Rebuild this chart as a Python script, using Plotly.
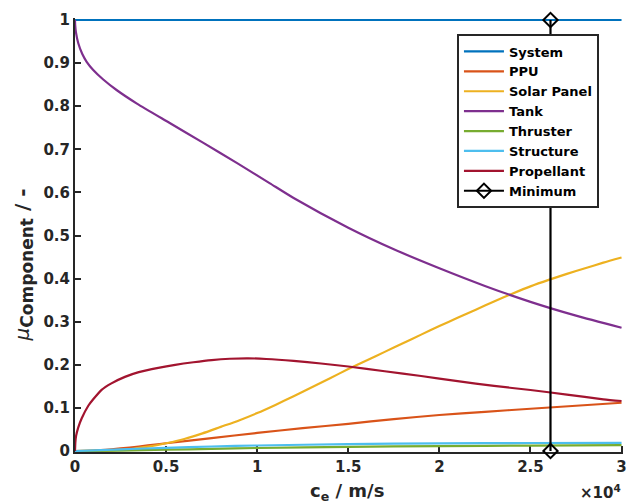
import plotly.graph_objects as go

# ---------------- data ----------------
x_system = [0, 30000]
system = [1.0, 1.0]

x_ppu = [0, 1000, 2000, 3000, 4000, 5000, 7500, 10000, 12500, 15000, 17500, 20000, 22500, 25000, 27500, 30000]
ppu = [0, 0.001, 0.004, 0.008, 0.013, 0.018, 0.030, 0.042, 0.053, 0.063, 0.074, 0.0835, 0.091, 0.098, 0.105, 0.112]

x_solar = [0, 1000, 2000, 3000, 4000, 5000, 6000, 7000, 8000, 9000, 10000, 11000, 12000, 13000, 14000,
           15000, 16000, 17000, 18000, 19000, 20000, 21000, 22000, 23000, 24000, 25000, 26000, 27000,
           28000, 29000, 30000]
solar = [0, 0.0003, 0.0015, 0.004, 0.010, 0.018, 0.028, 0.041, 0.056, 0.071, 0.088, 0.107, 0.127, 0.148,
         0.169, 0.190, 0.210, 0.230, 0.250, 0.270, 0.290, 0.309, 0.328, 0.347, 0.365, 0.382, 0.397, 0.411,
         0.424, 0.437, 0.449]

x_tank = [0, 10, 50, 180, 400, 640, 1000, 1550, 2300, 3400, 5200, 7000, 8900, 10700, 12000, 15000,
          17500, 20000, 22500, 25000, 27500, 30000]
tank = [1.0, 0.988, 0.972, 0.946, 0.921, 0.903, 0.884, 0.862, 0.837, 0.806, 0.761, 0.716, 0.668, 0.621,
        0.587, 0.518, 0.468, 0.424, 0.383, 0.346, 0.314, 0.286]

x_thruster = [0, 2500, 5000, 7500, 10000, 15000, 20000, 25000, 30000]
thruster = [0, 0.001, 0.003, 0.005, 0.007, 0.0095, 0.0115, 0.0125, 0.0135]

x_structure = [0, 2500, 5000, 7500, 10000, 15000, 20000, 25000, 30000]
structure = [0, 0.004, 0.0075, 0.0105, 0.0128, 0.016, 0.0178, 0.0186, 0.019]

x_prop = [0, 20, 60, 180, 370, 730, 1000, 1460, 2000, 2740, 3500, 4570, 5500, 6500, 7500, 8500, 9500,
          10500, 12000, 13500, 15000, 17000, 19000, 21000, 23000, 25000, 27000, 29000, 30000]
propellant = [0, 0.020, 0.035, 0.055, 0.076, 0.105, 0.120, 0.142, 0.157, 0.172, 0.183, 0.193, 0.200,
              0.206, 0.211, 0.214, 0.215, 0.2135, 0.209, 0.203, 0.196, 0.185, 0.174, 0.162, 0.151,
              0.1415, 0.131, 0.120, 0.116]

x_minimum = [26100, 26100]
minimum = [0, 1]

x_tickvals = [0, 5000, 10000, 15000, 20000, 25000, 30000]
x_ticktext = ["0", "0.5", "1", "1.5", "2", "2.5", "3"]
y_tickvals = [0, 0.1, 0.2, 0.3, 0.4, 0.5, 0.6, 0.7, 0.8, 0.9, 1]
y_ticktext = ["0", "0.1", "0.2", "0.3", "0.4", "0.5", "0.6", "0.7", "0.8", "0.9", "1"]

# ---------------- figure ----------------
FONT = "DejaVu Sans"
TXT = "#262626"
LW = 2.2

series = [
    ("System", x_system, system, "#0072BD"),
    ("PPU", x_ppu, ppu, "#D95319"),
    ("Solar Panel", x_solar, solar, "#EDB120"),
    ("Tank", x_tank, tank, "#7E2F8E"),
    ("Thruster", x_thruster, thruster, "#77AC30"),
    ("Structure", x_structure, structure, "#4DBEEE"),
    ("Propellant", x_prop, propellant, "#A2142F"),
]

fig = go.Figure()
for name, xs, ys, col in series:
    fig.add_trace(go.Scatter(x=xs, y=ys, mode="lines", name=name,
                             line=dict(color=col, width=LW, shape="spline", smoothing=0.6),
                             cliponaxis=False))

fig.add_trace(go.Scatter(x=x_minimum, y=minimum, mode="lines+markers", name="Minimum",
                         line=dict(color="black", width=LW),
                         marker=dict(symbol="diamond-open", size=11, color="black",
                                     line=dict(color="black", width=2)),
                         cliponaxis=False))

fig.update_layout(
    width=627, height=503,
    margin=dict(l=75, r=4, t=18, b=51, autoexpand=False),
    paper_bgcolor="white", plot_bgcolor="white",
    font=dict(family=FONT, color=TXT),
    showlegend=True,
    legend=dict(x=0.697, y=0.962, xanchor="left", yanchor="top",
                bgcolor="white", bordercolor=TXT, borderwidth=2,
                itemwidth=40,
                font=dict(family=FONT, size=13, color="black", weight="bold"),
                tracegroupgap=0),
)

fig.update_xaxes(range=[0, 30080], tickvals=x_tickvals, ticktext=x_ticktext,
                 automargin=False,
                 showgrid=False, zeroline=False, showline=True, linecolor=TXT, linewidth=2,
                 ticks="inside", ticklen=6, tickwidth=2, tickcolor=TXT,
                 ticklabeloverflow="allow",
                 tickfont=dict(family=FONT, size=15, color=TXT, weight="bold"),
                 layer="below traces")
fig.update_yaxes(range=[-0.0023, 1.0046], tickvals=y_tickvals, ticktext=y_ticktext,
                 automargin=False,
                 showgrid=False, zeroline=False, showline=True, linecolor=TXT, linewidth=2,
                 ticks="inside", ticklen=6, tickwidth=2, tickcolor=TXT,
                 tickfont=dict(family=FONT, size=15, color=TXT, weight="bold"),
                 layer="below traces")

fig.add_annotation(text="<b>c<sub>e</sub> / m/s</b>", xref="paper", yref="paper",
                   x=0.497, y=0, yshift=-40, xanchor="center", yanchor="middle",
                   showarrow=False, font=dict(family=FONT, size=18, color=TXT))
fig.add_annotation(text="<b>×10<sup>4</sup></b>", xref="paper", yref="paper",
                   x=1, y=0, yshift=-40, xanchor="right", yanchor="middle",
                   showarrow=False, font=dict(family=FONT, size=15, color=TXT))
fig.add_annotation(text="<i>μ</i><sub><span style='font-size:17px'><b>Component</b></span></sub><b> / -</b>",
                   xref="paper", yref="paper",
                   x=0, xshift=-52, y=0.43, xanchor="center", yanchor="middle", textangle=-90,
                   showarrow=False, font=dict(family=FONT, size=20, color=TXT))

fig.write_html("out.html")
